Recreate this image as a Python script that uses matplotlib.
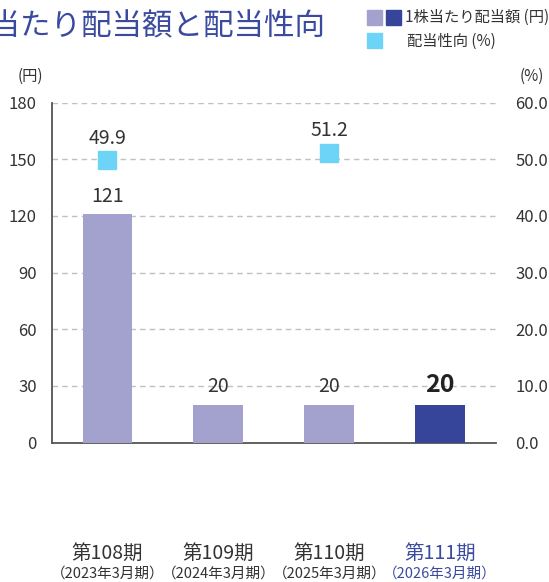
import numpy as np
import matplotlib
matplotlib.use("Agg")
import matplotlib.pyplot as plt
from matplotlib.patches import Rectangle

plt.rcParams['font.family'] = ['Noto Sans CJK JP', 'DejaVu Sans']

# data
periods = ['第108期', '第109期', '第110期', '第111期']
fiscal = ['（2023年3月期）', '（2024年3月期）', '（2025年3月期）', '（2026年3月期）']
dividend = [121, 20, 20, 20]
payout_x = [0, 2]
payout = [49.9, 51.2]
left_ticks = [0, 30, 60, 90, 120, 150, 180]
right_ticks = [0, 10, 20, 30, 40, 50, 60]

light = '#a3a1cd'
dark = '#36449a'
cyan = '#6dd3f7'
navy = '#3a4a9f'
txt = '#333333'

W, H = 549, 582
fig = plt.figure(figsize=(W / 100, H / 100), dpi=100)
ax = fig.add_axes([52 / W, 1 - 442.5 / H, 443.7 / W, 339.8 / H])

x = np.arange(len(dividend))
colors = [light, light, light, dark]
ax.bar(x, dividend, width=0.45, color=colors, zorder=3)
ax.set_xlim(-0.5, 3.5)
ax.set_ylim(0, 180)
ax.set_yticks(left_ticks)
ax.set_xticks([])
ax.yaxis.grid(True, linestyle=(0, (4, 3)), color='#c0c0c0', linewidth=1)
ax.set_axisbelow(True)
for s in ['top', 'right']:
    ax.spines[s].set_visible(False)
for s in ['left', 'bottom']:
    ax.spines[s].set_color('#555555')
    ax.spines[s].set_linewidth(1.3)
ax.tick_params(axis='y', length=0, pad=11, labelsize=12, labelcolor=txt)

for i, v in enumerate(dividend):
    last = i == len(dividend) - 1
    ax.text(i, v + 4, str(v), ha='center', va='bottom',
            fontsize=18 if last else 14, color='#222222' if last else txt,
            fontweight='bold' if last else 'normal', zorder=4)

ax2 = ax.twinx()
ax2.set_ylim(0, 60)
ax2.set_yticks(right_ticks)
ax2.set_yticklabels([f'{t:.1f}' for t in right_ticks])
ax2.tick_params(axis='y', length=0, pad=14, labelsize=12, labelcolor=txt)
for s in ax2.spines.values():
    s.set_visible(False)
ax2.plot(payout_x, payout, linestyle='none', marker='s', markersize=13.5,
         color=cyan, zorder=5)
for px, pv in zip(payout_x, payout):
    ax2.text(px, pv + 2.0, f'{pv:.1f}', ha='center', va='bottom',
             fontsize=14, color=txt)

# unit labels
fig.text(30 / W, 1 - 76 / H, '(円)', ha='center', va='center', fontsize=11, color=txt)
fig.text(532 / W, 1 - 76 / H, '(%)', ha='center', va='center', fontsize=11, color=txt)

# x labels
for i, (p, f) in enumerate(zip(periods, fiscal)):
    c = navy if i == len(periods) - 1 else txt
    ax.text(i, -(553 - 442.5) / 339.8, p, transform=ax.get_xaxis_transform(),
            ha='center', va='center', fontsize=14, color=c)
    ax.text(i, -(574 - 442.5) / 339.8, f, transform=ax.get_xaxis_transform(),
            ha='center', va='center', fontsize=10.5, color=c)

# title (its start runs off the left edge, as in the source)
fig.text(325 / W, 1 - 26 / H, '1株当たり配当額と配当性向', ha='right', va='center',
         fontsize=22, color=navy)

# legend
def sq(x0, y0, c):
    fig.patches.append(Rectangle((x0 / W, 1 - (y0 + 15) / H), 15 / W, 15 / H,
                                 transform=fig.transFigure, color=c))

sq(367, 10, light)
sq(386, 10, dark)
sq(367, 33, cyan)
fig.text(405 / W, 1 - 17.5 / H, '1株当たり配当額 (円)', ha='left', va='center',
         fontsize=11, color=txt)
fig.text(407 / W, 1 - 41 / H, '配当性向 (%)', ha='left', va='center',
         fontsize=11, color=txt)

fig.savefig('out.png', dpi=100)
